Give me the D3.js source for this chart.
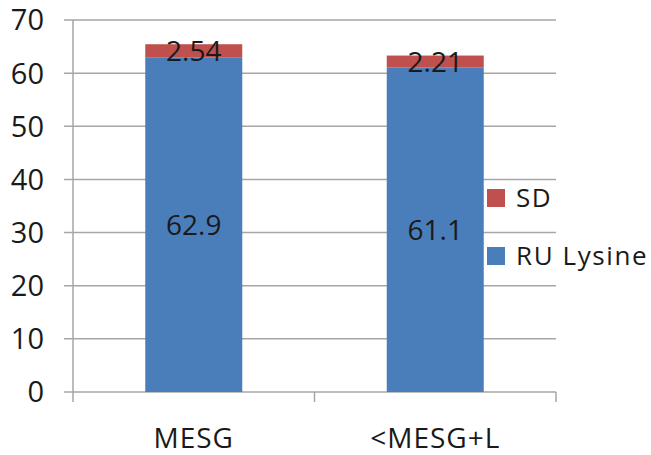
<!DOCTYPE html>
<html><head><meta charset="utf-8">
<script src="https://cdn.jsdelivr.net/npm/d3@7"></script>
<style>body{margin:0;background:#fff}svg{display:block}text{font-family:"Open Sans",sans-serif;fill:#1a1a1a}</style>
</head><body>
<script>
const categories = ["MESG", "<MESG+L"];
const ruLysine = [62.9, 61.1];
const sd = [2.54, 2.21];
const seriesNames = ["SD", "RU Lysine"];
const yTicks = [0, 10, 20, 30, 40, 50, 60, 70];

const W = 651, H = 455;
const svg = d3.select("body").append("svg").attr("width", W).attr("height", H);
const x = d3.scaleBand().domain(categories).range([73, 556]).paddingInner(0.6).paddingOuter(0.3);
const xb = d3.scaleBand().domain(categories).range([73, 556]);
const y = d3.scaleLinear().domain([0, 70]).range([392, 20]);
const grid = "#a6a6a6";

// gridlines
svg.append("g").selectAll("line").data(yTicks).join("line")
  .attr("x1", 64).attr("x2", 556).attr("y1", d => y(d)).attr("y2", d => y(d))
  .attr("stroke", grid).attr("stroke-width", 1.5);
// y axis line
svg.append("line").attr("x1", 73).attr("x2", 73).attr("y1", y(70)).attr("y2", 392).attr("stroke", grid).attr("stroke-width", 1.5);
// x tick marks at band boundaries
const bounds = [73, ...categories.map(c => xb(c) + xb.bandwidth())];
svg.append("g").selectAll("line").data(bounds).join("line")
  .attr("x1", d => d).attr("x2", d => d).attr("y1", 392).attr("y2", 402)
  .attr("stroke", grid).attr("stroke-width", 1.5);
// y labels
svg.append("g").selectAll("text").data(yTicks).join("text")
  .attr("x", 44).attr("y", d => y(d)).attr("dy", "0.36em").attr("text-anchor", "end")
  .attr("font-size", 29).text(d => d);

const data = categories.map((c, i) => ({c, a: ruLysine[i], b: sd[i]}));
// bars
const bw = 97;
const cx = d => x(d.c) + x.bandwidth() / 2;
svg.append("g").selectAll("rect").data(data).join("rect")
  .attr("x", d => cx(d) - bw / 2).attr("width", bw)
  .attr("y", d => y(d.a)).attr("height", d => y(0) - y(d.a)).attr("fill", "#4a7ebb");
svg.append("g").selectAll("rect").data(data).join("rect")
  .attr("x", d => cx(d) - bw / 2).attr("width", bw)
  .attr("y", d => y(d.a + d.b)).attr("height", d => y(d.a) - y(d.a + d.b)).attr("fill", "#c0504d");
// value labels
svg.append("g").selectAll("text").data(data).join("text")
  .attr("x", cx).attr("y", d => y(d.a / 2)).attr("dy", "0.36em").attr("text-anchor", "middle")
  .attr("font-size", 28).text(d => d.a);
svg.append("g").selectAll("text").data(data).join("text")
  .attr("x", cx).attr("y", d => y(d.a + d.b / 2)).attr("dy", "0.36em").attr("text-anchor", "middle")
  .attr("font-size", 28).text(d => d.b);
// x labels
svg.append("g").selectAll("text").data(categories).join("text")
  .attr("x", c => xb(c) + xb.bandwidth() / 2).attr("y", 448).attr("text-anchor", "middle")
  .attr("font-size", 28).attr("letter-spacing", 1).text(c => c);
// legend
const legColors = ["#c0504d", "#4a7ebb"];
const lg = svg.append("g").selectAll("g").data(seriesNames).join("g")
  .attr("transform", (d, i) => `translate(487, ${198 + i * 58})`);
lg.append("rect").attr("x", 0).attr("y", -9).attr("width", 18).attr("height", 18).attr("fill", (d, i) => legColors[i]);
lg.append("text").attr("x", 29).attr("y", 0).attr("dy", "0.36em").attr("font-size", 26).attr("letter-spacing", 1.6).text(d => d);
</script>
</body></html>
